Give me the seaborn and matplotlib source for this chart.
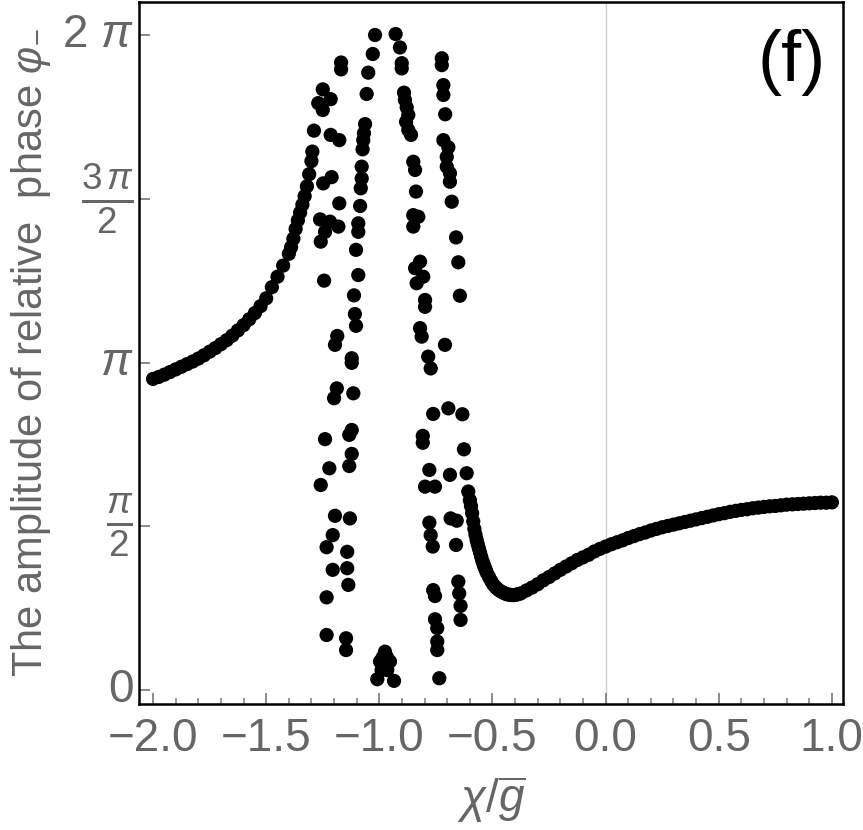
import numpy as np
import pandas as pd
import matplotlib
matplotlib.use("Agg")
import matplotlib.pyplot as plt
import seaborn as sns
from matplotlib import font_manager

# ---------------- data (phase values in units of pi) ----------------
left_x = [-2.000, -1.975, -1.950, -1.925, -1.900, -1.875, -1.850, -1.825, -1.800,
          -1.775, -1.750, -1.725, -1.700, -1.675, -1.650, -1.625, -1.600, -1.575,
          -1.550, -1.525, -1.500, -1.475, -1.450, -1.425, -1.400, -1.390, -1.380,
          -1.370, -1.360, -1.350, -1.340, -1.330, -1.320, -1.310, -1.300]
left_y = [0.950, 0.956, 0.963, 0.971, 0.979, 0.987, 0.995, 1.003, 1.012,
          1.022, 1.033, 1.044, 1.056, 1.068, 1.082, 1.098, 1.114, 1.132,
          1.151, 1.172, 1.196, 1.230, 1.262, 1.296, 1.332, 1.352, 1.378,
          1.408, 1.434, 1.458, 1.482, 1.508, 1.538, 1.575, 1.615]

chaos_x = [-1.019, -0.928, -0.909, -1.029, -1.169, -1.169, -0.901, -0.901, -0.724, -0.724,
           -1.049, -0.717, -0.717, -1.250, -1.215, -1.270, -1.250, -1.056, -0.891, -0.887,
           -0.879, -0.872, -0.882, -0.872, -0.860, -0.709, -1.289, -1.215, -1.177, -1.063,
           -1.068, -1.071, -1.074, -0.717, -0.695, -1.296, -0.850, -0.842, -1.078, -1.078,
           -1.082, -0.702, -0.702, -0.688, -0.688, -1.211, -1.248, -0.838, -0.680, -1.177,
           -1.085, -1.262, -1.218, -1.181, -1.240, -1.259, -1.093, -1.093, -0.850, -0.828,
           -0.850, -0.661, -1.103, -0.651, -0.820, -0.842, -0.806, -0.835, -1.244, -1.093,
           -0.644, -1.112, -0.798, -0.798, -1.108, -1.103, -0.820, -0.813, -1.186, -1.196,
           -0.710, -1.122, -0.784, -1.122, -0.773, -1.188, -1.200, -1.115, -0.762, -0.695,
           -0.633, -1.122, -1.133, -1.240, -0.808, -0.808, -0.626, -1.122, -1.133, -1.221,
           -1.259, -0.779, -0.688, -0.614, -0.798, -0.754, -1.196, -1.130, -1.206, -1.233,
           -0.779, -0.773, -0.764, -0.685, -0.658, -0.661, -1.142, -1.206, -1.142, -1.137,
           -1.233, -0.651, -0.647, -0.641, -0.641, -0.762, -0.754, -0.754, -0.744, -0.744,
           -0.744, -1.233, -1.147, -1.147, -0.975, -0.997, -0.953, -0.990, -0.965, -1.009,
           -0.935, -0.985, -0.966, -0.735]
chaos_y = [2.000, 2.003, 1.962, 1.942, 1.916, 1.895, 1.914, 1.898, 1.929, 1.908,
           1.885, 1.847, 1.817, 1.834, 1.804, 1.792, 1.771, 1.820, 1.824, 1.802,
           1.779, 1.756, 1.735, 1.710, 1.695, 1.758, 1.708, 1.695, 1.679, 1.728,
           1.700, 1.679, 1.651, 1.679, 1.657, 1.644, 1.613, 1.588, 1.598, 1.562,
           1.532, 1.628, 1.598, 1.578, 1.552, 1.566, 1.547, 1.522, 1.491, 1.486,
           1.478, 1.437, 1.430, 1.415, 1.399, 1.369, 1.425, 1.399, 1.450, 1.445,
           1.415, 1.382, 1.344, 1.306, 1.308, 1.288, 1.262, 1.242, 1.250, 1.267,
           1.204, 1.205, 1.191, 1.170, 1.148, 1.112, 1.105, 1.079, 1.081, 1.054,
           1.054, 1.013, 1.018, 0.999, 0.982, 0.921, 0.891, 0.906, 0.843, 0.860,
           0.842, 0.794, 0.779, 0.766, 0.776, 0.755, 0.735, 0.721, 0.684, 0.677,
           0.626, 0.672, 0.657, 0.662, 0.621, 0.621, 0.532, 0.524, 0.473, 0.436,
           0.511, 0.473, 0.438, 0.524, 0.517, 0.443, 0.422, 0.367, 0.372, 0.321,
           0.283, 0.331, 0.295, 0.257, 0.214, 0.305, 0.287, 0.216, 0.189, 0.148,
           0.122, 0.168, 0.158, 0.122, 0.117, 0.087, 0.087, 0.061, 0.061, 0.033,
           0.028, 0.100, 0.100, 0.036]

right_x = [-0.607, -0.600, -0.595, -0.590, -0.585, -0.580, -0.575, -0.570, -0.565, -0.560,
           -0.555, -0.550, -0.545, -0.540, -0.535, -0.530, -0.525, -0.515, -0.505, -0.495,
           -0.485, -0.475, -0.465, -0.455, -0.445, -0.435, -0.425, -0.415, -0.405, -0.395,
           -0.385, -0.375, -0.350, -0.325, -0.300, -0.275, -0.250, -0.225, -0.200, -0.175,
           -0.150, -0.125, -0.100, -0.075, -0.050, -0.025, 0.000, 0.025, 0.050, 0.075,
           0.100, 0.125, 0.150, 0.175, 0.200, 0.225, 0.250, 0.275, 0.300, 0.325,
           0.350, 0.375, 0.400, 0.425, 0.450, 0.475, 0.500, 0.525, 0.550, 0.575,
           0.600, 0.625, 0.650, 0.675, 0.700, 0.725, 0.750, 0.775, 0.800, 0.825,
           0.850, 0.875, 0.900, 0.925, 0.950, 0.975, 1.000]
right_y = [0.606, 0.580, 0.562, 0.540, 0.515, 0.492, 0.474, 0.458, 0.445, 0.432,
           0.420, 0.407, 0.395, 0.385, 0.376, 0.367, 0.358, 0.345, 0.332, 0.321,
           0.313, 0.307, 0.302, 0.298, 0.295, 0.292, 0.291, 0.290, 0.290, 0.291,
           0.293, 0.295, 0.304, 0.313, 0.323, 0.335, 0.345, 0.356, 0.367, 0.377,
           0.387, 0.397, 0.405, 0.413, 0.423, 0.431, 0.438, 0.445, 0.451, 0.457,
           0.464, 0.470, 0.476, 0.481, 0.487, 0.492, 0.497, 0.501, 0.505, 0.509,
           0.513, 0.517, 0.521, 0.525, 0.529, 0.533, 0.537, 0.540, 0.544, 0.547,
           0.550, 0.552, 0.555, 0.557, 0.559, 0.561, 0.562, 0.564, 0.566, 0.567,
           0.568, 0.569, 0.570, 0.571, 0.572, 0.572, 0.573]

x_ticks = [-2.0, -1.5, -1.0, -0.5, 0.0, 0.5, 1.0]
x_tick_labels = ["\u22122.0", "\u22121.5", "\u22121.0", "\u22120.5", "0.0", "0.5", "1.0"]
y_ticks_pi = [0, 0.5, 1.0, 1.5, 2.0]
y_tick_labels = ["0", r"$\frac{\pi}{2}$", r"$\pi$", r"$\frac{3\,\pi}{2}$", r"$2\ \pi$"]

# ---------------- style ----------------
sns.set_style("white")


def have(name):
    try:
        font_manager.findfont(name, fallback_to_default=False)
        return True
    except Exception:
        return False


narrow = "Liberation Sans Narrow" if have("Liberation Sans Narrow") else "Liberation Sans"
plt.rcParams["font.family"] = [narrow, "DejaVu Sans"]
plt.rcParams["mathtext.fontset"] = "custom"
plt.rcParams["mathtext.rm"] = narrow
plt.rcParams["mathtext.it"] = narrow + ":italic"
plt.rcParams["mathtext.bf"] = narrow + ":bold"

GRAY = "#666666"
TICKC = "#8a8a8a"

df = pd.DataFrame({
    "x": left_x + chaos_x + right_x,
    "y": np.array(left_y + chaos_y + right_y) * np.pi,
})

fig = plt.figure(figsize=(8.63, 8.30), dpi=100)
ax = fig.add_axes([0.1611, 0.1518, 0.8157, 0.8458])

ax.axvline(0.0, color="#cfcfcf", lw=1.0, zorder=0)
sns.scatterplot(data=df, x="x", y="y", color="black", s=105, linewidth=0,
                edgecolor="none", ax=ax, legend=False, zorder=3)

ax.set_xlim(-2.062, 1.049)
ax.set_ylim(-0.0427 * np.pi, 2.1008 * np.pi)

ax.set_xticks(x_ticks)
ax.set_xticklabels(x_tick_labels)
ax.set_xticks(np.round(np.arange(-2.0, 1.01, 0.1), 2), minor=True)
ax.set_yticks([v * np.pi for v in y_ticks_pi])
ax.set_yticklabels(y_tick_labels)

ax.tick_params(axis="x", which="both", bottom=True, top=False)
ax.tick_params(axis="y", which="both", left=True, right=False)
ax.tick_params(axis="x", which="major", direction="in", length=8, width=1.4,
               color=TICKC, labelsize=33, labelcolor=GRAY, pad=9)
ax.tick_params(axis="x", which="minor", direction="in", length=4.5, width=1.2,
               color=TICKC)
ax.tick_params(axis="y", which="major", direction="in", length=8, width=1.4,
               color=TICKC, labelsize=33, labelcolor=GRAY, pad=4)

for lab in ax.get_yticklabels():
    lab.set_verticalalignment("center")
    if "frac" in lab.get_text():
        lab.set_fontsize(38)

for s in ax.spines.values():
    s.set_color("black")
    s.set_linewidth(1.8)

ax.set_xlabel(r"$\chi/\overline{g}$", fontsize=33, color=GRAY, labelpad=10)
ax.set_ylabel(r"The amplitude of relative  phase $\varphi_{-}$", fontsize=30,
              color=GRAY, labelpad=6)

ax.text(0.9276, 0.9145, "(f)", transform=ax.transAxes, fontsize=52,
        family="Liberation Sans", color="black", ha="center", va="center")

fig.savefig("out.png", dpi=100)
